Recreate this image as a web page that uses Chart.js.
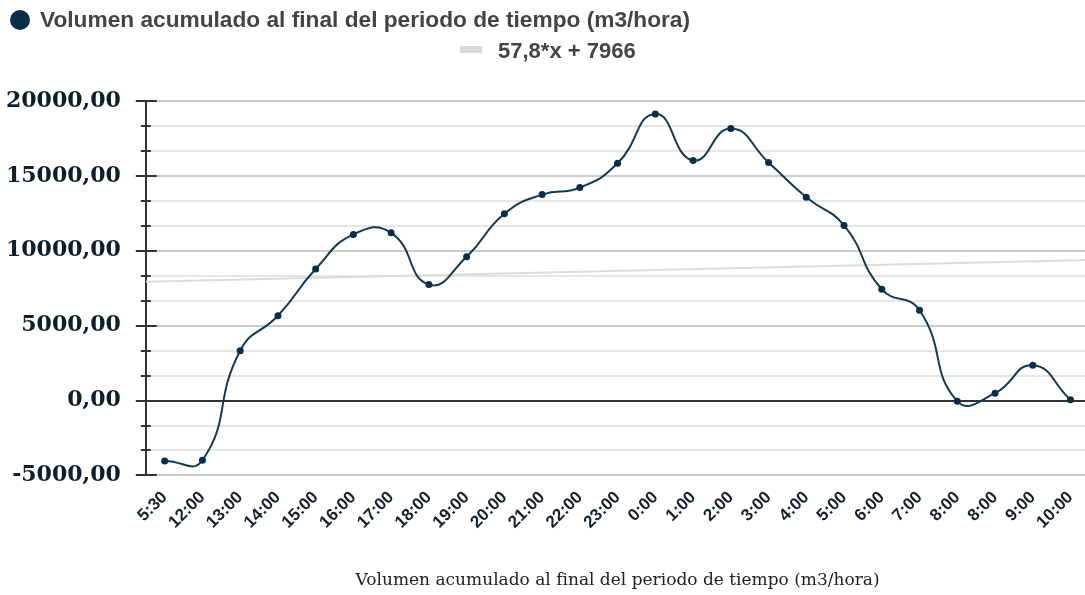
<!DOCTYPE html>
<html lang="es">
<head>
    <meta charset="UTF-8">
    <title>Volumen acumulado</title>
    <script src="https://cdn.jsdelivr.net/npm/chart.js"></script>
    <style>
        html, body {
            margin: 0;
            padding: 0;
            background: #fff;
            overflow: hidden;
        }
        .wrap {
            position: relative;
            width: 1097px;
            height: 595px;
        }
        .legend {
            position: absolute;
            font-family: "Liberation Sans", Arial, sans-serif;
            font-weight: bold;
            font-size: 22px;
            line-height: 26px;
            color: #444;
            white-space: nowrap;
        }
        .legend .dot {
            display: inline-block;
            width: 20px;
            height: 20px;
            border-radius: 50%;
            background: #0b2e47;
            vertical-align: -3px;
            margin-right: 10px;
        }
        .legend .bar {
            display: inline-block;
            width: 22px;
            height: 7px;
            background: #d9d9d9;
            vertical-align: 5px;
            margin-right: 16px;
        }
    </style>
</head>
<body>
<div class="wrap">
    <canvas id="chart"></canvas>
    <div class="legend" style="left:10px; top:6px; font-size:22.7px;"><span class="dot"></span>Volumen acumulado al final del periodo de tiempo (m3/hora)</div>
    <div class="legend" style="left:460px; top:38px;"><span class="bar"></span>57,8*x + 7966</div>
</div>

<script>
    const etiquetas = ["5:30", "12:00", "13:00", "14:00", "15:00", "16:00", "17:00", "18:00", "19:00",
        "20:00", "21:00", "22:00", "23:00", "0:00", "1:00", "2:00", "3:00", "4:00", "5:00", "6:00",
        "7:00", "8:00", "8:00", "9:00", "10:00"];
    const volumen = [-4030, -3990, 3330, 5660, 8780, 11090, 11200, 7740, 9600, 12470, 13750, 14220,
        15840, 19140, 16030, 18160, 15900, 13570, 11690, 7430, 6030, -40, 490, 2350, 50];
    // extremos de la recta de tendencia (57,8*x + 7966)
    const tendenciaX = [-0.5, 24.5];
    const tendenciaY = [7937, 9382];

    const nombreSerie = "Volumen acumulado al final del periodo de tiempo (m3/hora)";
    const paso = 5000 / 3;

    function esMayor(v) {
        return Math.abs(v / 5000 - Math.round(v / 5000)) < 0.001;
    }

    // marcas del eje Y: largas en las principales, cortas en las secundarias
    const marcasY = {
        id: 'marcasY',
        afterDraw(chart) {
            const y = chart.scales.y;
            const ctx = chart.ctx;
            const x0 = y.right;
            ctx.save();
            ctx.strokeStyle = '#333';
            ctx.lineWidth = 2;
            y.ticks.forEach(t => {
                const py = Math.round(y.getPixelForValue(t.value));
                const largo = esMayor(t.value);
                ctx.beginPath();
                ctx.moveTo(x0 - (largo ? 10 : 5), py);
                ctx.lineTo(x0 + (largo ? 11 : 5), py);
                ctx.stroke();
            });
            ctx.restore();
        }
    };

    new Chart(document.getElementById('chart'), {
        type: 'line',
        data: {
            labels: etiquetas,
            datasets: [
                {
                    label: nombreSerie,
                    data: volumen,
                    borderColor: '#123a55',
                    backgroundColor: '#0b2e47',
                    borderWidth: 2,
                    pointRadius: 3.5,
                    pointBorderWidth: 0,
                    tension: 0.5,
                    fill: false
                },
                {
                    label: "57,8*x + 7966",
                    data: tendenciaX.map((x, i) => ({ x: x, y: tendenciaY[i] })),
                    xAxisID: 'x2',
                    borderColor: '#dcdcdc',
                    borderWidth: 2,
                    pointRadius: 0,
                    fill: false
                }
            ]
        },
        options: {
            responsive: true,
            maintainAspectRatio: false,
            animation: false,
            layout: { padding: { top: 101, left: -19, right: 0, bottom: 4 } },
            plugins: {
                legend: { display: false },
                tooltip: { enabled: false }
            },
            scales: {
                x: {
                    offset: true,
                    grid: { display: false, drawTicks: false },
                    border: { display: false },
                    ticks: {
                        autoSkip: false,
                        maxRotation: 45,
                        minRotation: 45,
                        padding: 12,
                        color: '#14222d',
                        font: { family: '"Liberation Sans", Arial, sans-serif', weight: 'bold', size: 17 }
                    },
                    title: {
                        display: true,
                        text: nombreSerie,
                        color: '#222',
                        padding: { top: 26, bottom: 0 },
                        font: { family: '"DejaVu Serif", serif', size: 17 }
                    }
                },
                x2: {
                    type: 'linear',
                    display: false,
                    min: -0.5,
                    max: 24.5
                },
                y: {
                    min: -5000,
                    max: 20000,
                    ticks: {
                        stepSize: paso,
                        autoSkip: false,
                        padding: 25,
                        color: '#0e1f2b',
                        font: { family: '"DejaVu Serif", serif', weight: 'bold', size: 22 },
                        callback: v => esMayor(v) ? Math.round(v).toLocaleString('es-ES', { minimumFractionDigits: 2, useGrouping: false }) : ''
                    },
                    grid: {
                        drawTicks: false,
                        lineWidth: 2,
                        color: c => {
                            const v = c.tick.value;
                            if (Math.abs(v) < 1) return '#333';
                            return esMayor(v) ? '#cccccc' : '#e6e6e6';
                        }
                    },
                    border: { color: '#333', width: 2 }
                }
            }
        },
        plugins: [marcasY]
    });
</script>
</body>
</html>
